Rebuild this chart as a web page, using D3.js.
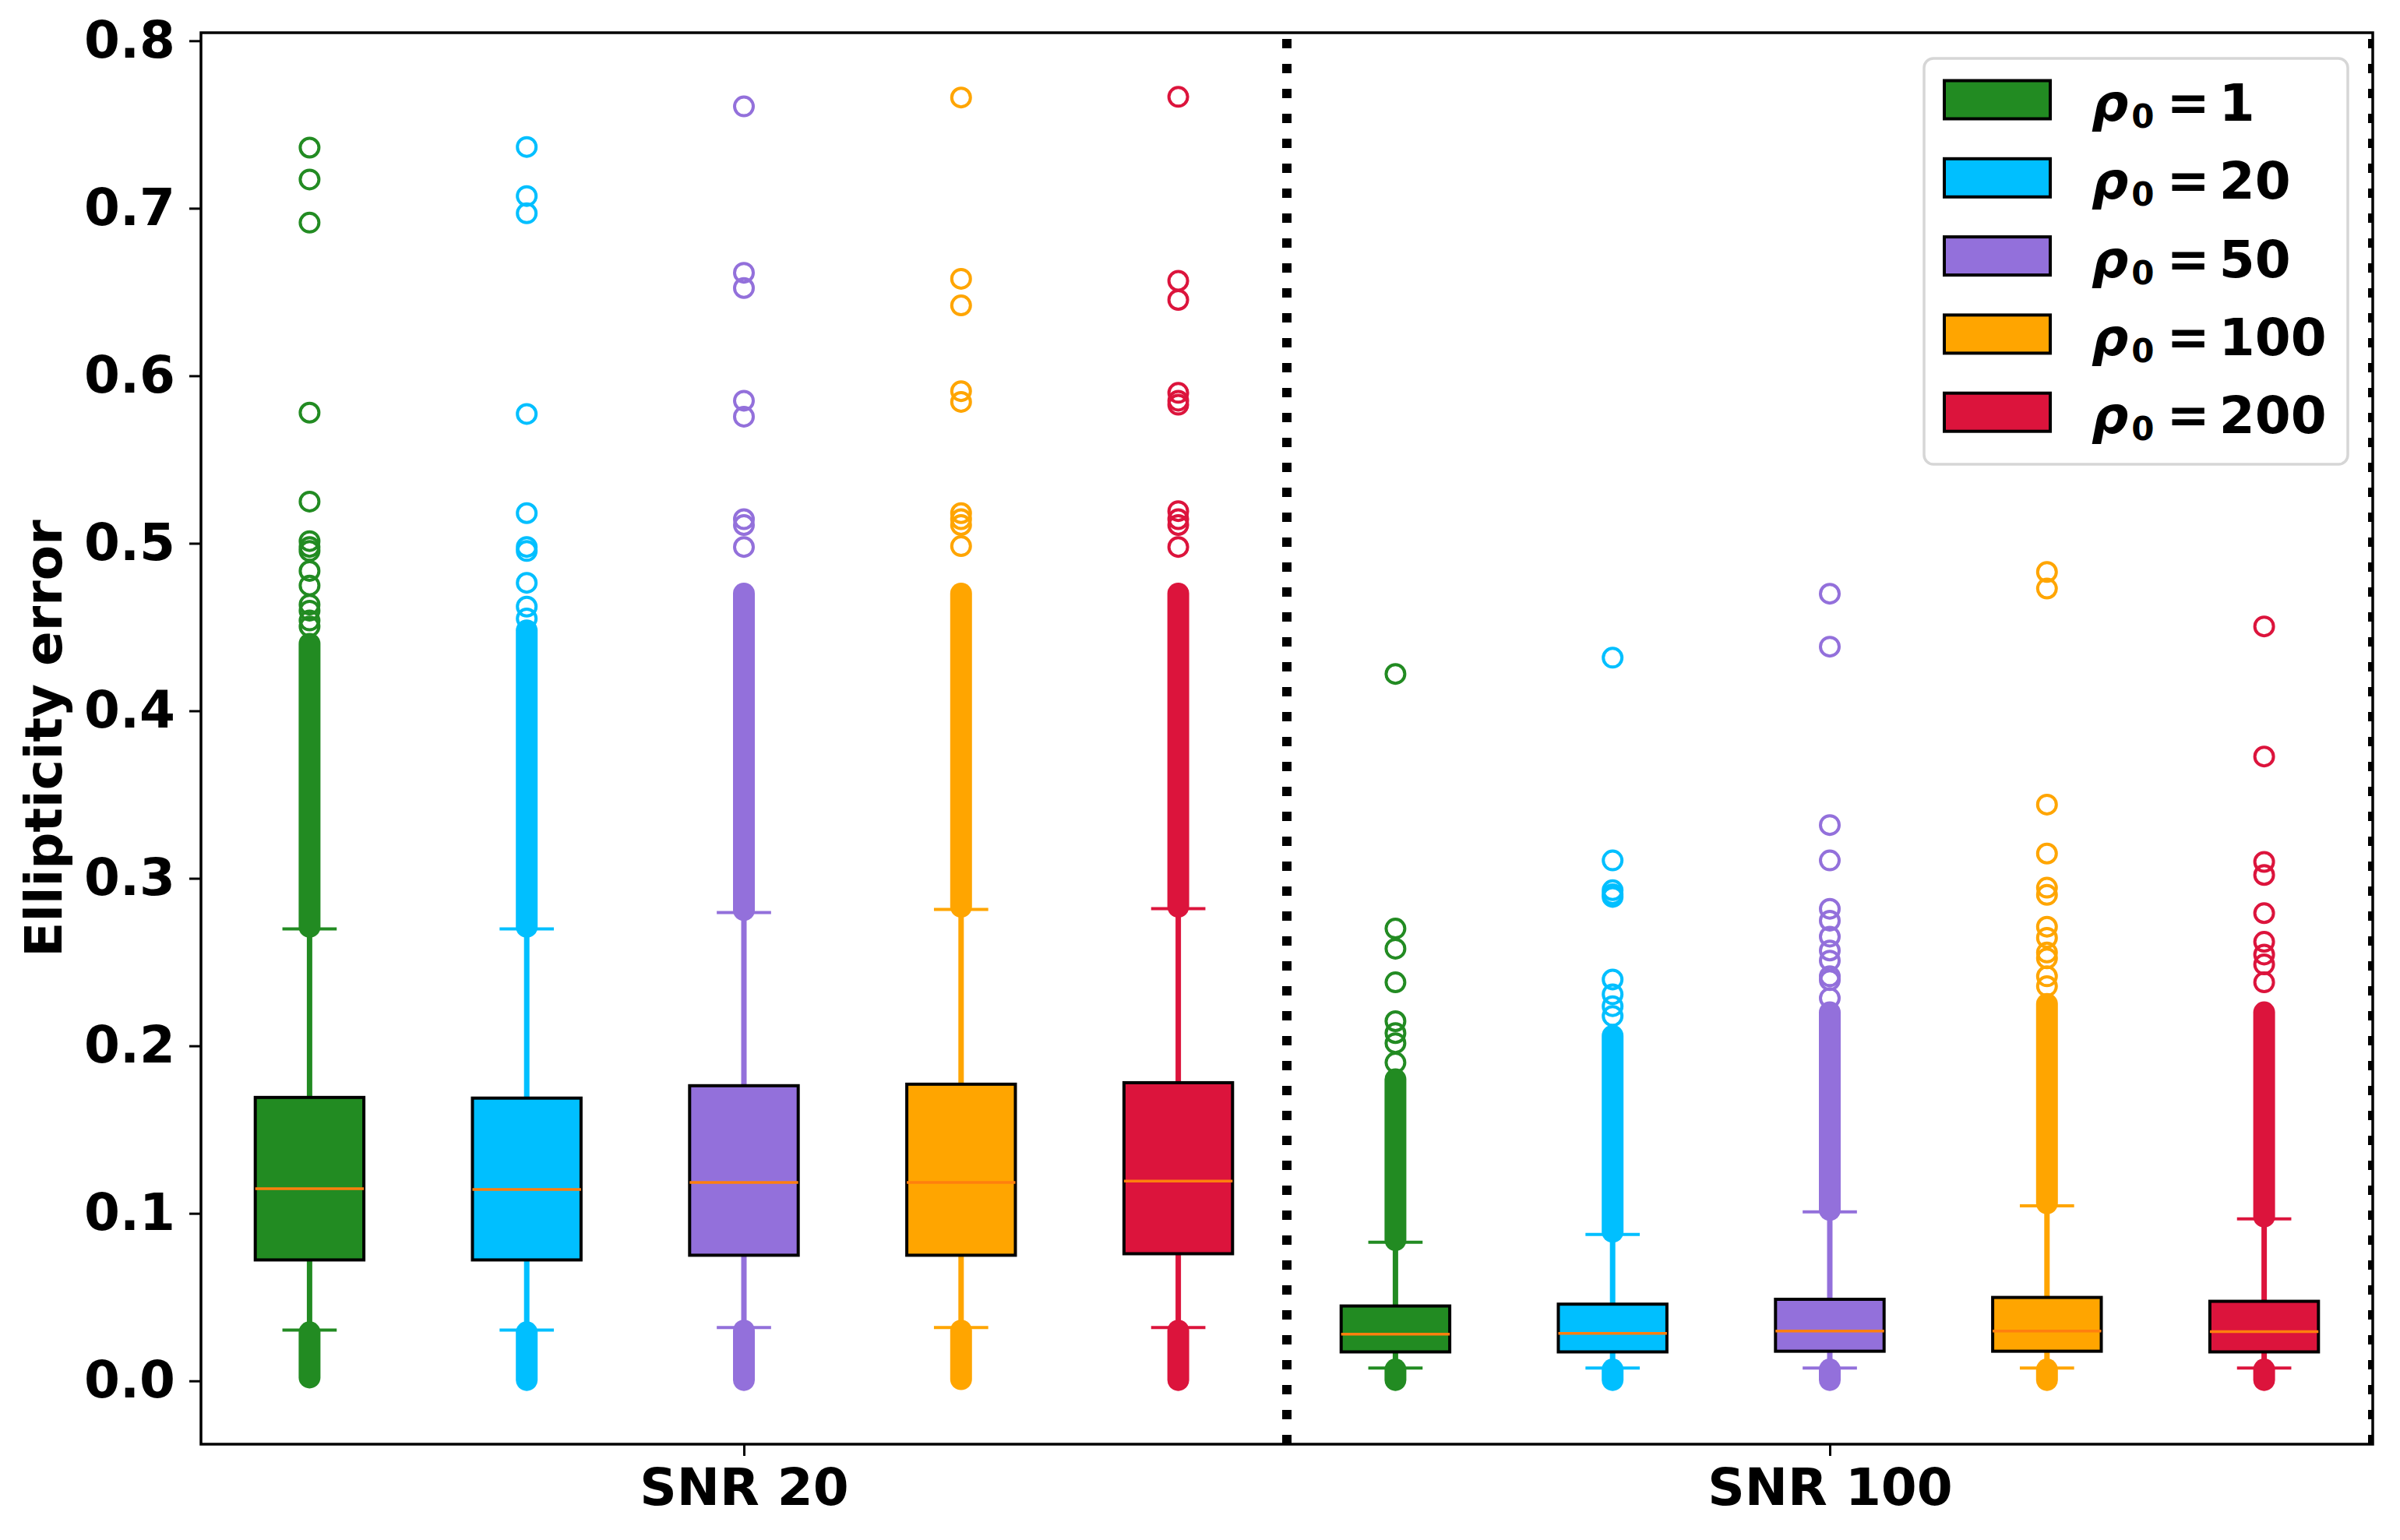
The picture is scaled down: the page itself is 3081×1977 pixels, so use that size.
<!DOCTYPE html>
<html>
<head>
<meta charset="utf-8">
<script src="https://cdn.jsdelivr.net/npm/d3@7"></script>
<style>
  body { margin: 0; background: #fff; }
  text { font-family: "DejaVu Sans", sans-serif; font-weight: bold; }
</style>
</head>
<body>
<div id="chart-area"></div>
<script>
// ---- DATA ----
const GROUPS = ["SNR 20", "SNR 100"]
const RHO = ["1", "20", "50", "100", "200"]
const Y_TICKS = [0, 0.1, 0.2, 0.3, 0.4, 0.5, 0.6, 0.7, 0.8]

// 10 boxes: SNR 20 (rho0 = 1, 20, 50, 100, 200) then SNR 100 (same order)
const Q1     = [0.0722, 0.0722, 0.0750, 0.0750, 0.0759,  0.0173, 0.0173, 0.0177, 0.0177, 0.0173]
const MEDIAN = [0.1147, 0.1143, 0.1184, 0.1184, 0.1193,  0.0279, 0.0284, 0.0298, 0.0298, 0.0294]
const Q3     = [0.1692, 0.1688, 0.1762, 0.1771, 0.1780,  0.0447, 0.0458, 0.0487, 0.0498, 0.0475]
const WHIS_LO = [0.0303, 0.0303, 0.0318, 0.0318, 0.0318, 0.0076, 0.0076, 0.0076, 0.0076, 0.0076]
const WHIS_HI = [0.2698, 0.2698, 0.2796, 0.2814, 0.2819, 0.0828, 0.0874, 0.1009, 0.1045, 0.0967]

// ranges where outliers are so dense they merge into a solid column
const DENSE_HI = [[0.271, 0.440], [0.271, 0.448], [0.281, 0.470], [0.283, 0.470], [0.283, 0.470],
                  [0.084, 0.180], [0.089, 0.206], [0.102, 0.220], [0.106, 0.225], [0.098, 0.220]]
const DENSE_LO = [[0.002, 0.029], [0.0005, 0.029], [0.0005, 0.030], [0.001, 0.030], [0.0005, 0.030],
                  [0.0005, 0.0068], [0.0005, 0.0068], [0.0005, 0.0068], [0.0005, 0.0068], [0.0005, 0.0068]]

// single visible outliers
const FLIERS = [
  [0.7362, 0.7172, 0.6914, 0.578, 0.5249, 0.5013, 0.4978, 0.4954, 0.4835, 0.4748, 0.4634, 0.4598, 0.4539, 0.4503],
  [0.7366, 0.7073, 0.697, 0.5772, 0.518, 0.4978, 0.4954, 0.4764, 0.4622, 0.4551],
  [0.7608, 0.6615, 0.6524, 0.5851, 0.5756, 0.5144, 0.5109, 0.4978],
  [0.7661, 0.6579, 0.642, 0.5908, 0.5844, 0.518, 0.5144, 0.5109, 0.4983],
  [0.7665, 0.6567, 0.6453, 0.5898, 0.5851, 0.5827, 0.5192, 0.5144, 0.5109, 0.4978],
  [0.422, 0.270, 0.258, 0.2379, 0.2147, 0.2076, 0.2016, 0.190],
  [0.4317, 0.3107, 0.2929, 0.2905, 0.2889, 0.2396, 0.2308, 0.2237, 0.2178],
  [0.4699, 0.4383, 0.3318, 0.3107, 0.2818, 0.2747, 0.2652, 0.2569, 0.2509, 0.2415, 0.2392, 0.2285],
  [0.4829, 0.473, 0.344, 0.3148, 0.2944, 0.2901, 0.2711, 0.2645, 0.2557, 0.2522, 0.2415, 0.2356],
  [0.4504, 0.3727, 0.3098, 0.302, 0.2792, 0.2621, 0.2545, 0.2486, 0.2379]
]

const COLORS = ["#228B22", "#00BFFF", "#9370DB", "#FFA500", "#DC143C"]

// ---- LAYOUT ----
const MARGIN = { LEFT: 258, RIGHT: 35, TOP: 42, BOTTOM: 123 }
const WIDTH = 3081 - MARGIN.LEFT - MARGIN.RIGHT
const HEIGHT = 1977 - MARGIN.TOP - MARGIN.BOTTOM
const FONT = 66

const svg = d3.select("#chart-area").append("svg")
  .attr("width", WIDTH + MARGIN.LEFT + MARGIN.RIGHT)
  .attr("height", HEIGHT + MARGIN.TOP + MARGIN.BOTTOM)

svg.append("defs").append("clipPath").attr("id", "plot-clip")
  .append("rect").attr("width", WIDTH).attr("height", HEIGHT)

const svgCanvas = svg.append("g")
  .attr("transform", `translate(${MARGIN.LEFT}, ${MARGIN.TOP})`)

const boxes = Q1.map((q1, i) => ({
  pos: i + 1,
  color: COLORS[i % RHO.length],
  q1: q1, med: MEDIAN[i], q3: Q3[i],
  lo: WHIS_LO[i], hi: WHIS_HI[i],
  denseHi: DENSE_HI[i], denseLo: DENSE_LO[i],
  fliers: FLIERS[i]
}))

// ---- SCALES ----
const nBox = boxes.length
const xScale = d3.scaleLinear()
  .domain([0.5, nBox + 0.5])
  .range([0, WIDTH])

const allVals = [].concat(WHIS_LO, WHIS_HI, DENSE_HI.flat(), DENSE_LO.flat(), FLIERS.flat())
const yMin = d3.min(allVals), yMax = d3.max(allVals)
const pad = 0.05 * (yMax - yMin)
const yScale = d3.scaleLinear()
  .domain([yMin - pad, yMax + pad])
  .range([HEIGHT, 0])

const boxW = xScale(1.5) - xScale(1)        // box width 0.5
const capW = boxW / 2

// ---- Y-AXIS ----
const yAxis = d3.axisLeft(yScale)
  .tickValues(Y_TICKS)
  .tickFormat(d3.format(".1f"))
  .tickSize(15)
  .tickPadding(18)
svgCanvas.append("g")
  .attr("class", "yAxis")
  .call(yAxis)
  .attr("font-size", FONT)
  .call(g => g.select(".domain").remove())
  .call(g => g.selectAll("line").attr("stroke-width", 3))
  .call(g => g.selectAll("text").attr("fill", "#000"))

// ---- X-AXIS (one tick per group) ----
const groupCenters = GROUPS.map((g, k) => (k * RHO.length + 1 + (k + 1) * RHO.length) / 2)
const xAxis = d3.axisBottom(xScale)
  .tickValues(groupCenters)
  .tickFormat((d, i) => GROUPS[i])
  .tickSize(15)
  .tickPadding(16)
svgCanvas.append("g")
  .attr("class", "xAxis")
  .attr("transform", `translate(0, ${HEIGHT})`)
  .call(xAxis)
  .attr("font-size", FONT)
  .call(g => g.select(".domain").remove())
  .call(g => g.selectAll("line").attr("stroke-width", 3))
  .call(g => g.selectAll("text").attr("fill", "#000"))

// y label
svg.append("text")
  .attr("transform", `translate(79, ${MARGIN.TOP + HEIGHT / 2}) rotate(-90)`)
  .attr("text-anchor", "middle")
  .attr("font-size", FONT)
  .text("Ellipticity error")

// ---- BOXES ----
const plot = svgCanvas.append("g").attr("clip-path", "url(#plot-clip)")

const bx = plot.selectAll(".box").data(boxes)
  .enter().append("g").attr("class", "box")

// whiskers
bx.append("line")
  .attr("x1", d => xScale(d.pos)).attr("x2", d => xScale(d.pos))
  .attr("y1", d => yScale(d.q3)).attr("y2", d => yScale(d.hi))
  .attr("stroke", d => d.color).attr("stroke-width", 7)
bx.append("line")
  .attr("x1", d => xScale(d.pos)).attr("x2", d => xScale(d.pos))
  .attr("y1", d => yScale(d.q1)).attr("y2", d => yScale(d.lo))
  .attr("stroke", d => d.color).attr("stroke-width", 7)

// caps
bx.selectAll(".cap").data(d => [d.lo, d.hi].map(v => ({ v: v, d: d })))
  .enter().append("line").attr("class", "cap")
  .attr("x1", c => xScale(c.d.pos) - capW / 2).attr("x2", c => xScale(c.d.pos) + capW / 2)
  .attr("y1", c => yScale(c.v)).attr("y2", c => yScale(c.v))
  .attr("stroke", c => c.d.color).attr("stroke-width", 4)

// box body
bx.append("rect")
  .attr("x", d => xScale(d.pos) - boxW / 2)
  .attr("width", boxW)
  .attr("y", d => yScale(d.q3))
  .attr("height", d => yScale(d.q1) - yScale(d.q3))
  .attr("fill", d => d.color)
  .attr("stroke", "#000").attr("stroke-width", 4)

// median
bx.append("line")
  .attr("x1", d => xScale(d.pos) - boxW / 2).attr("x2", d => xScale(d.pos) + boxW / 2)
  .attr("y1", d => yScale(d.med)).attr("y2", d => yScale(d.med))
  .attr("stroke", "#FF7F0E").attr("stroke-width", 3.5)

// dense outlier columns
bx.selectAll(".dense").data(d => [d.denseLo, d.denseHi].map(r => ({ r: r, d: d })))
  .enter().append("line").attr("class", "dense")
  .attr("x1", c => xScale(c.d.pos)).attr("x2", c => xScale(c.d.pos))
  .attr("y1", c => yScale(c.r[0])).attr("y2", c => yScale(c.r[1]))
  .attr("stroke", c => c.d.color).attr("stroke-width", 28)
  .attr("stroke-linecap", "round")

// single outliers
bx.selectAll(".flier").data(d => d.fliers.map(v => ({ v: v, d: d })))
  .enter().append("circle").attr("class", "flier")
  .attr("cx", c => xScale(c.d.pos))
  .attr("cy", c => yScale(c.v))
  .attr("r", 12)
  .attr("fill", "none")
  .attr("stroke", c => c.d.color).attr("stroke-width", 4)

// dotted separators between groups
plot.selectAll(".sep").data(GROUPS.map((g, k) => (k + 1) * RHO.length + 0.5))
  .enter().append("line").attr("class", "sep")
  .attr("x1", d => xScale(d)).attr("x2", d => xScale(d))
  .attr("y1", HEIGHT).attr("y2", 0)
  .attr("stroke", "#000").attr("stroke-width", 12)
  .attr("stroke-dasharray", "12,20")

// frame
svgCanvas.append("rect")
  .attr("width", WIDTH).attr("height", HEIGHT)
  .attr("fill", "none").attr("stroke", "#000").attr("stroke-width", 3.5)

// ---- LEGEND ----
const legend = svg.append("g").attr("transform", "translate(2470, 75)")
legend.append("rect")
  .attr("width", 544).attr("height", 521).attr("rx", 12)
  .attr("fill", "#fff").attr("fill-opacity", 0.8)
  .attr("stroke", "#d6d6d6").attr("stroke-width", 3.5)

const rows = legend.selectAll(".row").data(RHO)
  .enter().append("g").attr("class", "row")
  .attr("transform", (d, i) => `translate(0, ${53 + i * 100.3})`)
rows.append("rect")
  .attr("x", 26).attr("y", -24.5).attr("width", 136).attr("height", 49)
  .attr("fill", (d, i) => COLORS[i])
  .attr("stroke", "#000").attr("stroke-width", 4)
const lt = rows.append("text")
  .attr("x", 215).attr("y", 27)
  .attr("font-size", FONT)
lt.append("tspan").attr("font-style", "italic").text("ρ")
lt.append("tspan").attr("font-size", 42).attr("dx", 4).attr("dy", 9).text("0")
lt.append("tspan").attr("dx", 16).attr("dy", -9).text("=")
lt.append("tspan").attr("dx", 12).text(d => d)
</script>
</body>
</html>
